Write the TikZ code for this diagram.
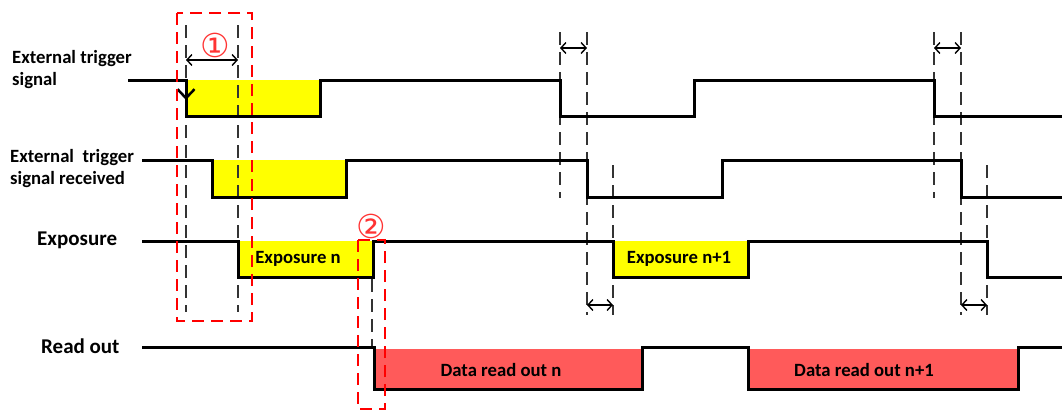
\documentclass[tikz,border=0pt]{standalone}
\usepackage{fontspec}
\setmainfont{Carlito}
\newfontfamily\circfont{DejaVu Sans}
\usetikzlibrary{arrows.meta}
\definecolor{expyellow}{RGB}{255,255,0}
\definecolor{readred}{RGB}{255,90,90}
\tikzset{sig/.style={line width=3pt,line join=miter},guide/.style={line width=1.4pt,black!80,dash pattern=on 13pt off 7pt},markbox/.style={red,line width=1.8pt,dash pattern=on 12pt off 7pt},gap/.style={line width=1.4pt,{Straight Barb[length=5pt,width=11pt]}-{Straight Barb[length=5pt,width=11pt]}},lbl/.style={font=\fontsize{18.7}{22}\selectfont\bfseries,align=left,anchor=west,inner sep=0},inlbl/.style={font=\fontsize{18.7}{22}\selectfont\bfseries,inner sep=0},circ/.style={red!80,font=\circfont\fontsize{33}{33}\selectfont,inner sep=0}}
\begin{document}
\begin{tikzpicture}[x=1pt,y=-1pt]
\useasboundingbox(0,0)rectangle(1062,410);
% fills
\fill[expyellow](186,80)rectangle(320,116) (212,160)rectangle(346,197) (238,241)rectangle(373,277) (613,241)rectangle(748,277);
\fill[readred](374,349)rectangle(642,389) (748,349)rectangle(1018,389);
% guide lines
\foreach\x/\a/\b in{186/25/312,238/25/312,372/279/346,560/32/198,587/32/315,613/165/315,934/32/198,961/32/315,987/165/315}{\draw[guide](\x,\a)--(\x,\b);}
\draw[gap](186,60)--(238,60);\draw[gap](560,48)--(587,48);\draw[gap](934,48)--(961,48);\draw[gap](587,305)--(613,305);\draw[gap](961,305)--(987,305);
% waveforms
\draw[sig](128,80)--(186,80)--(186,116)--(320,116)--(320,80)--(560,80)--(560,116)--(694,116)--(694,80)--(934,80)--(934,116)--(1062,116);
\draw[sig](142,160)--(212,160)--(212,197)--(346,197)--(346,160)--(587,160)--(587,197)--(722,197)--(722,160)--(961,160)--(961,197)--(1062,197);
\draw[sig](142,241)--(238,241)--(238,277)--(373,277)--(373,241)--(613,241)--(613,277)--(748,277)--(748,241)--(987,241)--(987,277)--(1062,277);
\draw[sig](142,347)--(374,347)--(374,389)--(642,389)--(642,347)--(748,347)--(748,389)--(1018,389)--(1018,347)--(1062,347);
\draw[line width=2.5pt,-{Straight Barb[length=9pt,width=17pt]}](186,80)--(186,100);
% marks
\draw[markbox](177,13)rectangle(252,321);\draw[markbox](358,240)rectangle(385,409);
\node[circ](c1)at(215,45){①};\node[circ](c2)at(371,226){②};
% labels
\node[lbl](trig)at(12,70){External trigger\\signal};
\node[lbl](recv)at(10,169){External\ \ trigger\\signal received};
\node[lbl,font=\fontsize{21}{22}\selectfont\bfseries](expo)at(37,240){Exposure};
\node[lbl,font=\fontsize{21}{22}\selectfont\bfseries](read)at(41,346){Read out};
\foreach\n/\x/\y/\t in{en/298/259/Exposure n,en1/679/259/Exposure n+1,rn/501/370/Data read out n,rn1/864/370/Data read out n+1}{\node[inlbl](\n)at(\x,\y){\t};}
\end{tikzpicture}
\end{document}
